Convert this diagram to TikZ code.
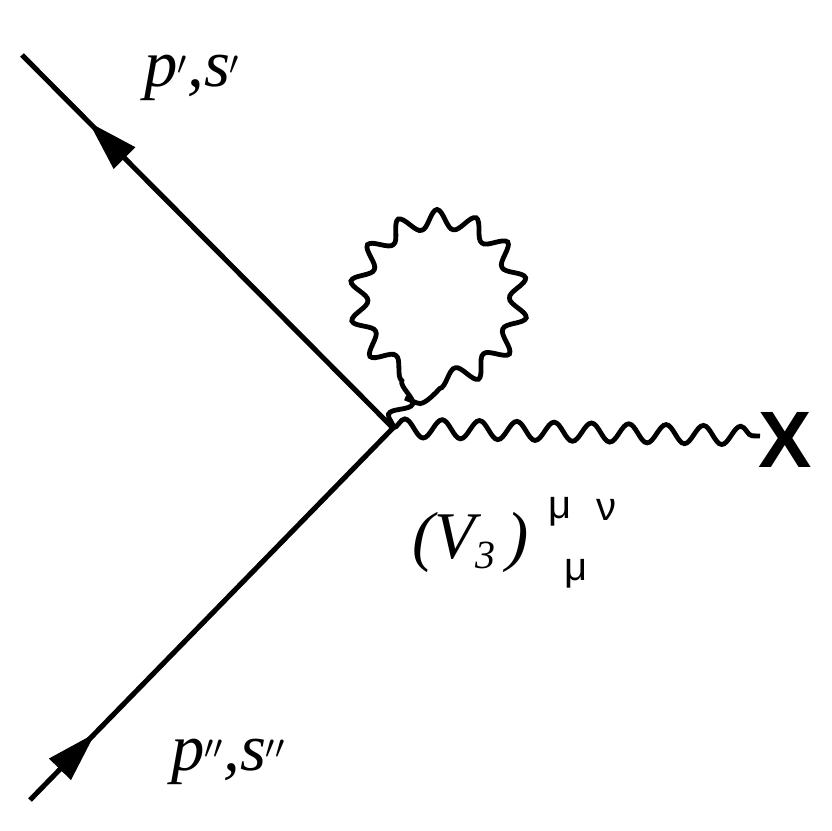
\documentclass[tikz,border=0pt]{standalone}
\usepackage{fontspec}
\setmainfont{Liberation Serif}
\setsansfont{Liberation Sans}
\usetikzlibrary{decorations.pathmorphing,decorations.markings,arrows.meta}
\begin{document}
\begin{tikzpicture}[x=0.75pt,y=-0.75pt,
  fermion/.style={line width=3.8pt,postaction={decorate},decoration={markings,mark=at position #1 with {\arrow{Triangle[length=38pt,width=22pt]}}}},
  photon/.style={line width=3.6pt,decorate,decoration={snake,amplitude=7pt,segment length=28pt}},
  lbl/.style={font=\fontsize{50}{50}\selectfont\itshape},
  idx/.style={font=\sffamily\fontsize{30}{30}\selectfont}]
\useasboundingbox (0,0) rectangle (831,831);
\coordinate (v) at (393,428);
\coordinate (a) at (22,55);
\coordinate (b) at (30,800);
\coordinate (xend) at (760,436);
\coordinate (ls) at (405,398);
\draw[fermion=0.82] (v) -- (a);
\draw[fermion=0.18] (b) -- (v);
\draw[photon] (v) -- (xend);
\draw[photon,decoration={segment length=27pt}] (v) -- (ls) arc[start angle=110,end angle=470,radius=80];
\node (X) at (785,440) {\sffamily\bfseries\fontsize{60}{60}\selectfont X};
\node[lbl] (l1) at (192,78) {p$'$,s$'$};
\node[lbl] (l2) at (228,762) {p$''$,s$''$};
\node[lbl,anchor=west] (l3) at (408,542) {(V\raisebox{-8pt}{\fontsize{30}{30}\selectfont 3}\,)};
\node[idx] (mu1) at (560,512) {μ};
\node[idx] (nu) at (606,510) {ν};
\node[idx] (mu2) at (576,574) {μ};
\end{tikzpicture}
\end{document}
